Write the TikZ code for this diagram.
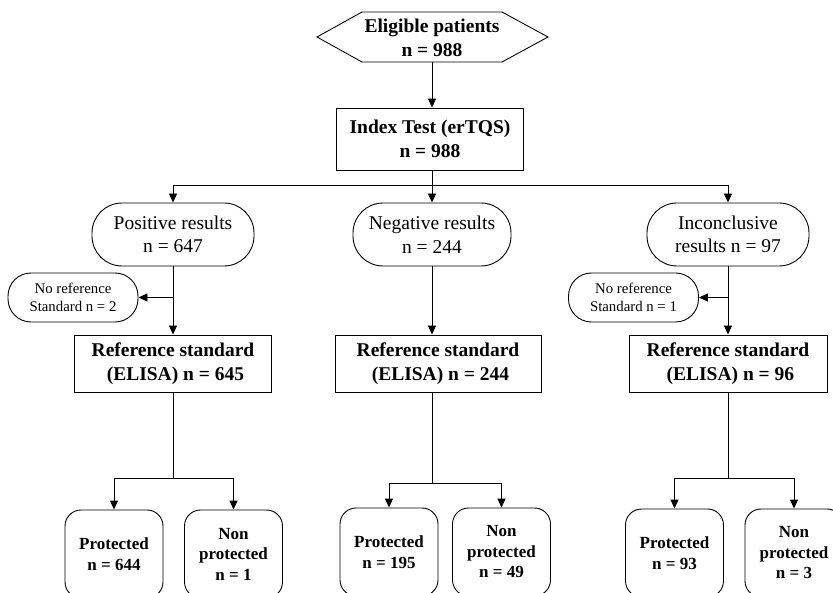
\documentclass[tikz,border=0pt]{standalone}
\usepackage{fontspec}
\setmainfont{Liberation Serif}
\usetikzlibrary{arrows.meta}
\newcommand{\bigf}{\fontsize{19.5}{23.5}\selectfont}
\newcommand{\smallf}{\fontsize{14.8}{18}\selectfont}
\newcommand{\botf}{\fontsize{17}{20.5}\selectfont}
\begin{document}
\begin{tikzpicture}[x=1pt,y=-1pt,
  line width=0.9pt,
  arr/.style={-{Triangle[length=9pt,width=8pt]}},
  pill/.style={draw,rounded corners=30pt,minimum height=63pt,inner sep=0pt,align=center,font=\bigf},
  noref/.style={draw,rounded corners=23pt,minimum width=130pt,minimum height=49pt,inner sep=0pt,align=center,font=\smallf},
  refbox/.style={draw,minimum height=57pt,inner sep=0pt,align=center,font=\bigf\bfseries},
  outbox/.style={draw,rounded corners=16pt,minimum width=98pt,minimum height=88pt,inner sep=0pt,align=center,font=\botf\bfseries}]
\useasboundingbox (0,0) rectangle (833,593);
\clip (0,0) rectangle (833,593);
% hexagon
\draw (317,37) -- (362,12) -- (502,12) -- (548,37) -- (502,62) -- (362,62) -- cycle;
\node[align=center,font=\bigf\bfseries,inner sep=0pt] (elig) at (432,38) {Eligible patients\\n = 988};
\coordinate (hexbot) at (432,62);
\node[draw,minimum width=187pt,minimum height=62pt,inner sep=0pt,align=center,font=\bigf\bfseries] (index) at (430,139) {Index Test (erTQS)\\n = 988};
% results
\node[pill,minimum width=162pt] (pos) at (173,234.5) {Positive results\\n = 647};
\node[pill,minimum width=158pt] (neg) at (432,234.5) {Negative results\\n = 244};
\node[pill,minimum width=162pt] (inc) at (728,234.5) {Inconclusive\\results n = 97};
\node[noref] (nr1) at (73,297.5) {No reference\\Standard n = 2};
\node[noref] (nr3) at (633.5,297.5) {No reference\\Standard n = 1};
\node[refbox,minimum width=197pt] (ref1) at (173,363.5) {Reference standard\\\ (ELISA) n = 645};
\node[refbox,minimum width=206pt] (ref2) at (438,363.5) {Reference standard\\\ (ELISA) n = 244};
\node[refbox,minimum width=198pt] (ref3) at (728,363.5) {Reference standard\\\ (ELISA) n = 96};
% outcomes
\node[outbox] (p1) at (114,554) {Protected\\n = 644};
\node[outbox] (n1) at (233.5,554) {Non\\protected\\n = 1};
\node[outbox] (p2) at (389,552) {Protected\\n = 195};
\node[outbox] (n2) at (501.5,552) {Non\\protected\\n = 49};
\node[outbox] (p3) at (674.5,553) {Protected\\n = 93};
\node[outbox] (n3) at (794,553) {Non\\protected\\n = 3};
% connectors
\draw[arr] (hexbot) -- (index.north -| hexbot);
\coordinate (split) at (432,185);
\draw (index.south -| split) -- (split);
\draw[arr] (split) -- (neg.north -| split);
\draw[arr] (split) -| (pos.north);
\draw[arr] (split) -| (inc.north);
\draw[arr] (pos.south) -- (ref1.north);
\draw[arr] (pos.south |- nr1.east) -- (nr1.east);
\draw[arr] (neg.south) -- (neg.south |- ref2.north);
\draw[arr] (inc.south) -- (ref3.north);
\draw[arr] (inc.south |- nr3.east) -- (nr3.east);
% branches
\coordinate (b1) at (173,478);
\coordinate (b2) at (432,483);
\coordinate (b3) at (728,478);
\draw (ref1.south) -- (b1);
\draw[arr] (b1) -| (p1.north);
\draw[arr] (b1) -| (n1.north);
\draw (ref2.south -| b2) -- (b2);
\draw[arr] (b2) -| (p2.north);
\draw[arr] (b2) -| (n2.north);
\draw (ref3.south) -- (b3);
\draw[arr] (b3) -| (p3.north);
\draw[arr] (b3) -| (n3.north);
\end{tikzpicture}
\end{document}
